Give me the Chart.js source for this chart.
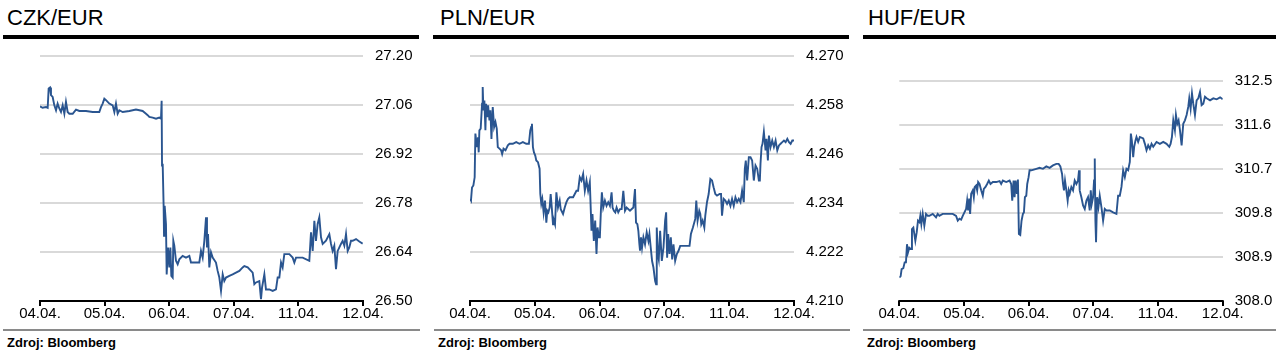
<!DOCTYPE html>
<html>
<head>
<meta charset="utf-8">
<script src="https://cdn.jsdelivr.net/npm/chart.js@4/dist/chart.umd.min.js"></script>
<style>
html,body{margin:0;padding:0;background:#fff;}
body{width:1284px;height:362px;position:relative;overflow:hidden;font-family:"Liberation Sans",Arial,sans-serif;color:#000;}
.title{position:absolute;top:7px;font-size:22px;line-height:22px;white-space:nowrap;}
.bar{position:absolute;top:35px;height:4px;background:#000;}
.rule{position:absolute;top:328.5px;height:2px;background:#8a8a8a;}
.src{position:absolute;top:335px;font-size:13px;font-weight:bold;line-height:15px;white-space:nowrap;}
canvas{position:absolute;top:20px;}
</style>
</head>
<body>
<div class="title" style="left:7px">CZK/EUR</div>
<div class="title" style="left:440px">PLN/EUR</div>
<div class="title" style="left:868px">HUF/EUR</div>
<div class="bar" style="left:3px;width:416px"></div>
<div class="bar" style="left:433px;width:416px"></div>
<div class="bar" style="left:863px;width:413px"></div>
<canvas id="c1" width="428" height="310" style="left:0px"></canvas>
<canvas id="c2" width="428" height="310" style="left:428px"></canvas>
<canvas id="c3" width="428" height="310" style="left:856px"></canvas>
<div class="rule" style="left:3px;width:417px"></div>
<div class="rule" style="left:434px;width:416px"></div>
<div class="rule" style="left:863px;width:413px"></div>
<div class="src" style="left:7px">Zdroj: Bloomberg</div>
<div class="src" style="left:438px">Zdroj: Bloomberg</div>
<div class="src" style="left:867px">Zdroj: Bloomberg</div>
<script>
const dateLabels = ['04.04.', '05.04.', '06.04.', '07.04.', '11.04.', '12.04.'];

const czkTicks = [26.50, 26.64, 26.78, 26.92, 27.06, 27.20];
const plnTicks = [4.210, 4.222, 4.234, 4.246, 4.258, 4.270];
const hufTicks = [308.0, 308.9, 309.8, 310.7, 311.6, 312.5];

// [time in trading days from 04.04., rate]
const czkSeries = [
 [0.000,27.056],[0.041,27.052],[0.093,27.054],[0.119,27.052],[0.134,27.107],[0.155,27.110],[0.170,27.088],[0.196,27.083],[0.222,27.059],[0.248,27.045],
 [0.273,27.064],[0.299,27.050],[0.325,27.040],[0.351,27.059],[0.377,27.035],[0.402,27.069],[0.428,27.040],[0.454,27.035],[0.506,27.035],[0.557,27.047],
 [0.609,27.043],[0.712,27.043],[0.815,27.040],[0.918,27.040],[0.944,27.054],[0.970,27.064],[0.996,27.078],[1.022,27.074],[1.073,27.064],[1.125,27.059],
 [1.151,27.040],[1.176,27.064],[1.202,27.035],[1.228,27.045],[1.280,27.040],[1.383,27.043],[1.486,27.047],[1.589,27.043],[1.641,27.035],[1.667,27.031],
 [1.692,27.026],[1.744,27.024],[1.796,27.021],[1.847,27.024],[1.873,27.021],[1.883,27.072],[1.889,26.887],[1.899,26.892],[1.914,26.768],[1.920,26.686],
 [1.930,26.772],[1.950,26.720],[1.961,26.576],[1.981,26.653],[2.002,26.596],[2.018,26.653],[2.033,26.572],[2.054,26.567],[2.064,26.672],[2.079,26.658],
 [2.105,26.615],[2.131,26.605],[2.157,26.619],[2.208,26.629],[2.260,26.624],[2.312,26.629],[2.337,26.610],[2.415,26.610],[2.466,26.610],[2.492,26.643],
 [2.518,26.624],[2.544,26.672],[2.570,26.739],[2.585,26.653],[2.601,26.691],[2.621,26.596],[2.647,26.639],[2.673,26.624],[2.724,26.610],[2.750,26.586],
 [2.776,26.567],[2.802,26.529],[2.828,26.576],[2.853,26.557],[2.879,26.567],[2.931,26.572],[2.982,26.576],[3.034,26.581],[3.086,26.586],[3.137,26.596],
 [3.163,26.600],[3.215,26.596],[3.292,26.581],[3.318,26.548],[3.344,26.553],[3.395,26.557],[3.421,26.505],[3.437,26.538],[3.473,26.576],[3.498,26.533],
 [3.550,26.533],[3.602,26.529],[3.653,26.533],[3.679,26.567],[3.705,26.567],[3.731,26.610],[3.756,26.596],[3.782,26.634],[3.860,26.634],[3.911,26.624],
 [3.937,26.610],[3.963,26.624],[4.066,26.624],[4.169,26.615],[4.195,26.696],[4.221,26.643],[4.247,26.729],[4.272,26.672],[4.298,26.720],[4.324,26.739],
 [4.350,26.682],[4.376,26.663],[4.427,26.672],[4.479,26.691],[4.505,26.663],[4.530,26.643],[4.556,26.658],[4.582,26.591],[4.608,26.643],[4.634,26.653],
 [4.659,26.663],[4.685,26.672],[4.711,26.658],[4.737,26.691],[4.763,26.643],[4.788,26.653],[4.814,26.672],[4.840,26.672],[4.892,26.677],[4.943,26.670],
 [4.995,26.664]
];

const plnSeries = [
 [0.000,4.2350],[0.015,4.2346],[0.031,4.2378],[0.052,4.2383],[0.072,4.2403],[0.083,4.2510],[0.093,4.2497],[0.108,4.2477],[0.124,4.2501],[0.134,4.2464],
 [0.145,4.2518],[0.165,4.2522],[0.186,4.2583],[0.196,4.2624],[0.207,4.2567],[0.222,4.2591],[0.238,4.2518],[0.248,4.2583],[0.263,4.2550],[0.279,4.2579],
 [0.300,4.2542],[0.315,4.2567],[0.331,4.2497],[0.351,4.2575],[0.372,4.2526],[0.393,4.2538],[0.413,4.2522],[0.429,4.2477],[0.455,4.2473],[0.480,4.2469],
 [0.496,4.2460],[0.517,4.2473],[0.548,4.2469],[0.584,4.2481],[0.610,4.2485],[0.661,4.2485],[0.713,4.2489],[0.764,4.2485],[0.816,4.2489],[0.868,4.2485],
 [0.909,4.2485],[0.930,4.2518],[0.945,4.2526],[0.956,4.2534],[0.971,4.2477],[0.987,4.2464],[1.007,4.2456],[1.023,4.2444],[1.049,4.2440],[1.074,4.2424],
 [1.085,4.2362],[1.100,4.2338],[1.116,4.2350],[1.136,4.2317],[1.157,4.2346],[1.178,4.2292],[1.193,4.2321],[1.209,4.2317],[1.229,4.2329],[1.245,4.2362],
 [1.260,4.2333],[1.281,4.2288],[1.296,4.2297],[1.312,4.2288],[1.333,4.2366],[1.358,4.2329],[1.384,4.2346],[1.400,4.2325],[1.436,4.2313],[1.462,4.2329],
 [1.488,4.2342],[1.513,4.2350],[1.539,4.2354],[1.591,4.2354],[1.643,4.2370],[1.668,4.2370],[1.694,4.2403],[1.720,4.2395],[1.746,4.2411],[1.772,4.2370],
 [1.798,4.2395],[1.823,4.2370],[1.849,4.2391],[1.875,4.2272],[1.890,4.2313],[1.911,4.2247],[1.932,4.2297],[1.952,4.2215],[1.968,4.2280],[1.989,4.2256],
 [2.004,4.2256],[2.020,4.2321],[2.035,4.2366],[2.056,4.2329],[2.082,4.2346],[2.107,4.2333],[2.133,4.2342],[2.159,4.2333],[2.185,4.2366],[2.200,4.2329],
 [2.221,4.2321],[2.242,4.2317],[2.262,4.2329],[2.288,4.2317],[2.314,4.2325],[2.340,4.2325],[2.366,4.2370],[2.392,4.2321],[2.417,4.2329],[2.469,4.2321],
 [2.521,4.2329],[2.546,4.2374],[2.562,4.2292],[2.583,4.2288],[2.598,4.2272],[2.614,4.2239],[2.624,4.2223],[2.639,4.2256],[2.655,4.2231],[2.676,4.2256],
 [2.701,4.2239],[2.727,4.2268],[2.753,4.2247],[2.769,4.2264],[2.789,4.2231],[2.810,4.2198],[2.831,4.2182],[2.857,4.2149],[2.872,4.2141],[2.882,4.2280],
 [2.898,4.2215],[2.913,4.2202],[2.934,4.2272],[2.960,4.2198],[2.986,4.2231],[3.011,4.2297],[3.027,4.2317],[3.042,4.2206],[3.058,4.2264],[3.079,4.2215],
 [3.099,4.2256],[3.120,4.2202],[3.140,4.2239],[3.166,4.2198],[3.192,4.2215],[3.218,4.2223],[3.244,4.2235],[3.295,4.2235],[3.388,4.2235],[3.409,4.2264],
 [3.440,4.2280],[3.476,4.2301],[3.492,4.2346],[3.512,4.2297],[3.538,4.2321],[3.554,4.2313],[3.569,4.2288],[3.590,4.2297],[3.616,4.2280],[3.631,4.2309],
 [3.657,4.2342],[3.683,4.2362],[3.709,4.2399],[3.735,4.2395],[3.760,4.2378],[3.786,4.2362],[3.812,4.2358],[3.853,4.2362],[3.874,4.2362],[3.889,4.2309],
 [3.915,4.2350],[3.941,4.2346],[3.967,4.2338],[3.993,4.2346],[4.019,4.2333],[4.044,4.2350],[4.070,4.2333],[4.096,4.2354],[4.122,4.2342],[4.148,4.2350],
 [4.174,4.2342],[4.199,4.2370],[4.225,4.2342],[4.241,4.2424],[4.256,4.2444],[4.277,4.2395],[4.303,4.2452],[4.329,4.2452],[4.354,4.2444],[4.380,4.2395],
 [4.406,4.2432],[4.432,4.2424],[4.458,4.2395],[4.473,4.2395],[4.483,4.2436],[4.499,4.2477],[4.514,4.2485],[4.535,4.2514],[4.561,4.2469],[4.576,4.2497],
 [4.597,4.2444],[4.613,4.2505],[4.638,4.2477],[4.664,4.2493],[4.690,4.2477],[4.716,4.2493],[4.742,4.2469],[4.768,4.2481],[4.793,4.2485],[4.819,4.2489],
 [4.845,4.2493],[4.871,4.2489],[4.897,4.2497],[4.923,4.2489],[4.948,4.2485],[4.974,4.2493],[5.000,4.2493]
];

const hufSeries = [
 [0.000,308.48],[0.021,308.51],[0.036,308.65],[0.062,308.67],[0.083,308.79],[0.103,308.79],[0.119,309.16],[0.134,308.99],[0.155,309.09],[0.181,309.06],
 [0.196,309.47],[0.217,309.50],[0.232,309.37],[0.248,309.23],[0.269,309.40],[0.289,309.64],[0.310,309.61],[0.325,309.74],[0.341,309.57],[0.362,309.78],
 [0.387,309.54],[0.413,309.78],[0.439,309.74],[0.465,309.74],[0.517,309.78],[0.568,309.71],[0.594,309.78],[0.620,309.74],[0.671,309.78],[0.723,309.78],
 [0.775,309.78],[0.826,309.78],[0.878,309.74],[0.904,309.64],[0.930,309.68],[0.956,309.66],[0.981,309.74],[1.007,309.81],[1.033,309.88],[1.049,310.05],
 [1.064,309.85],[1.080,310.09],[1.095,309.78],[1.111,310.19],[1.136,310.26],[1.152,310.12],[1.167,310.33],[1.188,310.36],[1.204,310.26],[1.219,310.43],
 [1.240,310.39],[1.266,310.26],[1.291,310.15],[1.307,310.29],[1.333,310.33],[1.358,310.39],[1.384,310.46],[1.410,310.39],[1.446,310.43],[1.498,310.43],
 [1.550,310.45],[1.575,310.39],[1.601,310.46],[1.653,310.43],[1.705,310.46],[1.730,310.39],[1.746,310.05],[1.767,310.46],[1.782,310.12],[1.798,310.46],
 [1.818,310.19],[1.834,310.48],[1.849,309.37],[1.870,309.35],[1.890,309.64],[1.911,309.78],[1.927,309.81],[1.942,310.12],[1.963,310.15],[1.978,310.39],
 [1.999,310.53],[2.014,310.67],[2.040,310.67],[2.066,310.68],[2.118,310.70],[2.169,310.72],[2.221,310.70],[2.273,310.75],[2.324,310.72],[2.376,310.77],
 [2.428,310.80],[2.464,310.80],[2.490,310.75],[2.516,310.60],[2.531,310.39],[2.546,310.26],[2.562,310.46],[2.583,310.26],[2.603,310.05],[2.619,310.26],
 [2.634,310.19],[2.660,310.33],[2.686,310.26],[2.712,310.46],[2.738,310.39],[2.763,310.46],[2.779,310.67],[2.789,310.26],[2.815,310.12],[2.841,309.95],
 [2.867,309.88],[2.893,310.05],[2.918,310.12],[2.944,309.85],[2.960,310.26],[2.975,309.98],[2.996,310.12],[3.011,310.46],[3.022,310.91],[3.032,309.64],
 [3.042,309.20],[3.058,310.12],[3.079,309.92],[3.099,310.15],[3.125,309.92],[3.151,309.64],[3.177,309.88],[3.202,309.85],[3.254,309.85],[3.306,309.81],
 [3.357,309.78],[3.383,310.15],[3.409,310.15],[3.435,310.33],[3.461,310.67],[3.487,310.53],[3.512,310.70],[3.538,310.67],[3.564,310.84],[3.580,311.42],
 [3.595,311.28],[3.616,310.94],[3.631,311.15],[3.652,311.28],[3.667,311.35],[3.693,311.25],[3.719,311.35],[3.771,311.32],[3.797,311.21],[3.822,311.08],
 [3.848,311.18],[3.874,311.11],[3.900,311.21],[3.926,311.15],[3.977,311.25],[4.029,311.21],[4.081,311.25],[4.132,311.21],[4.174,311.15],[4.194,311.21],
 [4.215,311.35],[4.236,311.69],[4.261,311.49],[4.277,311.80],[4.298,311.62],[4.318,311.69],[4.339,311.49],[4.365,311.18],[4.390,311.62],[4.416,311.69],
 [4.442,311.80],[4.468,311.97],[4.483,312.14],[4.504,311.93],[4.525,312.24],[4.545,312.03],[4.571,311.80],[4.597,312.10],[4.623,312.14],[4.649,312.27],
 [4.674,312.00],[4.700,312.03],[4.726,312.17],[4.752,312.14],[4.804,312.10],[4.855,312.14],[4.907,312.12],[4.959,312.16],[5.000,312.12]
];

const LINE_COLOR = '#2a5590';
const FONT = "'Liberation Sans', Arial, sans-serif";
const CANVAS_TOP = 20;

// Black x-axis line with downward tick marks, placed through the x scale.
const axisPlugin = {
  id: 'axisLine',
  afterDatasetsDraw(chart) {
    const { ctx, chartArea, scales } = chart;
    const x = scales.x;
    const y0 = Math.round(chartArea.bottom);
    ctx.save();
    ctx.strokeStyle = '#000';
    ctx.lineWidth = 2;
    ctx.beginPath();
    ctx.moveTo(chartArea.left - 1, y0);
    ctx.lineTo(chartArea.right + 1, y0);
    x.ticks.forEach(t => {
      const px = Math.round(x.getPixelForValue(t.value));
      ctx.moveTo(px, y0);
      ctx.lineTo(px, y0 + 5);
    });
    ctx.stroke();
    ctx.restore();
  }
};

function makeChart(id, series, yTicks, decimals, box) {
  new Chart(document.getElementById(id), {
    type: 'line',
    data: {
      datasets: [{
        data: series.map(p => ({ x: p[0], y: p[1] })),
        borderColor: LINE_COLOR,
        borderWidth: 1.9,
        pointRadius: 0,
        tension: 0,
        fill: false
      }]
    },
    plugins: [axisPlugin],
    options: {
      responsive: false,
      animation: false,
      events: [],
      layout: { padding: { left: box.left, top: box.top - CANVAS_TOP, right: 0, bottom: 0 } },
      plugins: { legend: { display: false }, tooltip: { enabled: false }, title: { display: false } },
      scales: {
        x: {
          type: 'linear',
          min: 0,
          max: dateLabels.length - 1,
          afterBuildTicks: s => { s.ticks = dateLabels.map((_, i) => ({ value: i })); },
          afterFit: s => { s.height = 330 - 301; },
          grid: { display: false, drawOnChartArea: false, drawTicks: true, tickLength: 4 },
          border: { display: false },
          ticks: {
            autoSkip: false, maxRotation: 0, minRotation: 0, padding: 0,
            color: '#000', font: { family: FONT, size: 15 },
            callback: v => dateLabels[Math.round(v)]
          }
        },
        y: {
          position: 'right',
          min: yTicks[0],
          max: yTicks[yTicks.length - 1],
          afterBuildTicks: s => { s.ticks = yTicks.map(v => ({ value: v })); },
          afterFit: s => { s.width = 428 - box.right; },
          grid: { color: '#d9d9d9', lineWidth: 2, drawTicks: false },
          border: { display: false },
          ticks: {
            padding: 12, color: '#000', font: { family: FONT, size: 15 },
            callback: v => Number(v).toFixed(decimals)
          }
        }
      }
    }
  });
}

makeChart('c1', czkSeries, czkTicks, 2, { left: 40, top: 56, right: 363 });
makeChart('c2', plnSeries, plnTicks, 3, { left: 42, top: 56, right: 366 });
makeChart('c3', hufSeries, hufTicks, 1, { left: 43.3, top: 80.7, right: 366.7 });
</script>
</body>
</html>
